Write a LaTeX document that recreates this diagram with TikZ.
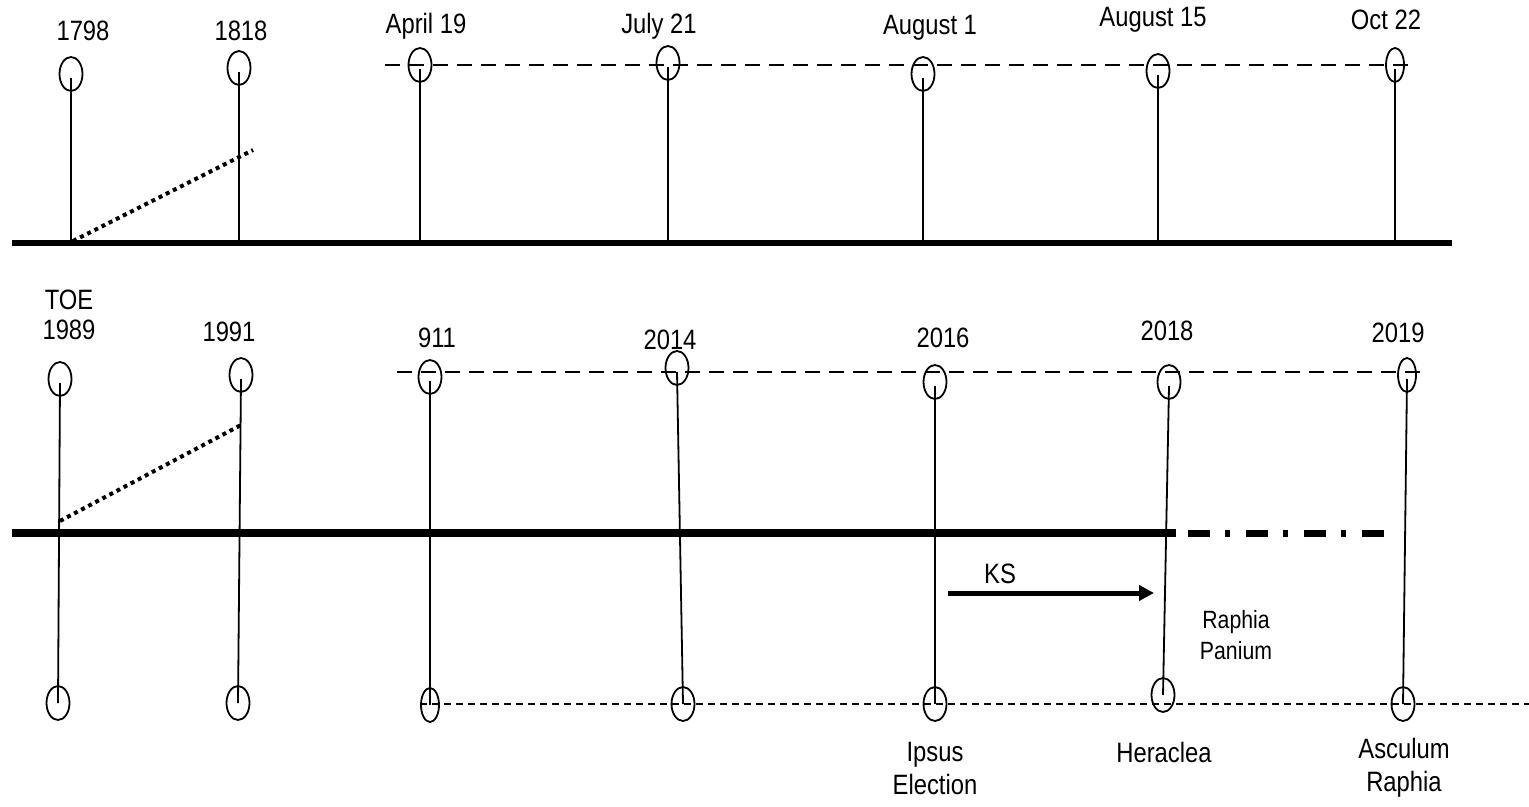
\documentclass[tikz,border=0pt]{standalone}
\usepackage{fontspec}
\setmainfont{Liberation Sans}[FakeStretch=0.85]
\usetikzlibrary{shapes.geometric,arrows.meta}
\begin{document}
\begin{tikzpicture}[x=0.5pt,y=-0.5pt,
 ev/.style={draw,ellipse,line width=0.9pt,minimum width=11.5pt,minimum height=17pt,inner sep=0pt},
 lab/.style={font=\fontsize{14}{15}\selectfont,align=center,inner sep=0pt},
 small/.style={font=\fontsize{12.5}{15.5}\selectfont,align=center,inner sep=0pt},
 stem/.style={line width=0.9pt},
 topaxis/.style={line width=2.6pt},
 axis/.style={line width=3.6pt},
 slant/.style={line width=2pt,dash pattern=on 2pt off 2pt},
 guide/.style={line width=0.8pt,dash pattern=on 7.5pt off 4.5pt},
 fine/.style={line width=0.8pt,dash pattern=on 3.5pt off 2.5pt},
 dashdot/.style={line width=3.5pt,dash pattern=on 11pt off 7.5pt on 2.5pt off 8pt},
]
\useasboundingbox (0,0) rectangle (1529,807);

% ---------- top timeline ----------
\coordinate (tb0) at (12,243);
\coordinate (tb1) at (1452,243);
\draw[topaxis] (tb0) -- (tb1);

\coordinate (tg0) at (385,65);
\coordinate (tg1) at (1408,65);
\draw[guide] (tg0) -- (tg1);

\node[ev] (t1) at (71,74) {};
\node[ev] (t2) at (239,68) {};
\node[ev] (t3) at (420,65) {};
\node[ev] (t4) at (668,63) {};
\node[ev] (t5) at (923,74) {};
\node[ev] (t6) at (1158,71) {};
\node[ev,minimum width=9pt] (t7) at (1395,65) {};

\node[lab] (lt1) at (83,31) {1798};
\node[lab] (lt2) at (241,31) {1818};
\node[lab] (lt3) at (426,26) {April 19};
\node[lab] (lt4) at (659,26) {July 21};
\node[lab] (lt5) at (930,28) {August 1};
\node[lab] (lt6) at (1153,20) {August 15};
\node[lab] (lt7) at (1386,20) {Oct 22};

\foreach \i in {1,...,7} {
  \draw[stem] ([yshift=-2pt]t\i.center) -- (t\i.center |- tb0);
}

\coordinate (ts0) at (73,241);
\coordinate (ts1) at (253,150);
\draw[slant] (ts0) -- (ts1);

% ---------- bottom timeline ----------
\coordinate (bb0) at (12,533);
\coordinate (bb1) at (1176,533);
\coordinate (bb2) at (1188,533);
\coordinate (bb3) at (1385,533);
\draw[axis] (bb0) -- (bb1);
\draw[dashdot] (bb2) -- (bb3);

\coordinate (bg0) at (397,372);
\coordinate (bg1) at (1420,372);
\draw[guide] (bg0) -- (bg1);

\coordinate (bf0) at (420,704);
\coordinate (bf1) at (1529,704);
\draw[fine] (bf0) -- (bf1);

\node[ev] (b1) at (60,379) {};
\node[ev] (b2) at (241,375) {};
\node[ev] (b3) at (430,377) {};
\node[ev] (b4) at (677,368) {};
\node[ev] (b5) at (935,382) {};
\node[ev] (b6) at (1169,382) {};
\node[ev,minimum width=9pt] (b7) at (1407,375) {};

\node[ev] (c1) at (58,703) {};
\node[ev] (c2) at (238,703) {};
\node[ev,minimum width=9pt] (c3) at (430,705) {};
\node[ev] (c4) at (683,704) {};
\node[ev] (c5) at (935,704) {};
\node[ev] (c6) at (1163,695) {};
\node[ev] (c7) at (1403,704) {};

\foreach \i in {1,...,7} {
  \draw[stem] ([yshift=-2pt]b\i.center) -- (c\i.center);
}

\node[lab,font=\fontsize{14}{15}\selectfont] (lb1) at (69,315) {TOE\\1989};
\node[lab] (lb2) at (229,332) {1991};
\node[lab] (lb3) at (437,338) {911};
\node[lab] (lb4) at (670,340) {2014};
\node[lab] (lb5) at (943,338) {2016};
\node[lab] (lb6) at (1167,331) {2018};
\node[lab] (lb7) at (1398,333) {2019};

\coordinate (bs0) at (60,521);
\coordinate (bs1) at (241,425);
\draw[slant] (bs0) -- (bs1);

\coordinate (ks0) at (948,593);
\coordinate (ks1) at (1154,593);
\draw[line width=2.5pt,-{Triangle[length=7.5pt,width=7.5pt]}] (ks0) -- (ks1);
\node[lab] (ksl) at (1000,574) {KS};

\node[small] (rp) at (1236,635) {Raphia\\Panium};

\node[lab,font=\fontsize{14}{16.5}\selectfont] (lc5) at (935,768) {Ipsus\\Election};
\node[lab] (lc6) at (1164,752) {Heraclea};
\node[lab,font=\fontsize{14}{16.5}\selectfont] (lc7) at (1404,768) {Asculum\\Raphia};
\end{tikzpicture}
\end{document}
